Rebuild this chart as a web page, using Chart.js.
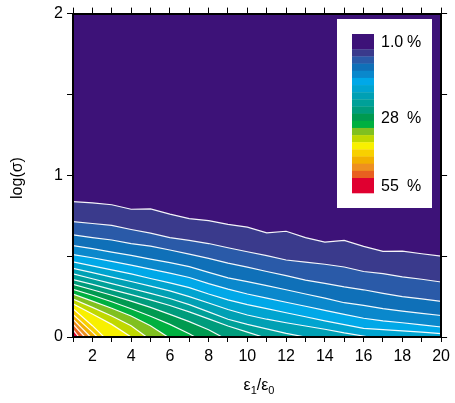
<!DOCTYPE html>
<html>
<head>
<meta charset="utf-8">
<script src="https://cdn.jsdelivr.net/npm/chart.js@4.4.1/dist/chart.umd.min.js"></script>
<style>
  html, body { margin: 0; padding: 0; background: #fff; }
</style>
</head>
<body>
<canvas id="contour" width="455" height="403"></canvas>
<script>
const xs = [1, 2, 3, 4, 5, 6, 7, 8, 9, 10, 11, 12, 13, 14, 15, 16, 17, 18, 19, 20];

// log(sigma) of each contour line, one array per level (1%, 4%, ... 55%)
const lv1 = [0.837, 0.830, 0.818, 0.790, 0.792, 0.760, 0.732, 0.720, 0.697, 0.679, 0.644, 0.654, 0.615, 0.587, 0.597, 0.560, 0.530, 0.531, 0.515, 0.500];
const lv2 = [0.714, 0.702, 0.690, 0.665, 0.642, 0.615, 0.597, 0.578, 0.552, 0.527, 0.503, 0.476, 0.463, 0.450, 0.433, 0.405, 0.392, 0.372, 0.357, 0.340];
const lv3 = [0.632, 0.615, 0.600, 0.578, 0.562, 0.538, 0.512, 0.486, 0.457, 0.432, 0.405, 0.380, 0.352, 0.332, 0.310, 0.292, 0.270, 0.250, 0.236, 0.220];
const lv4 = [0.565, 0.546, 0.525, 0.505, 0.482, 0.460, 0.435, 0.400, 0.366, 0.342, 0.318, 0.292, 0.266, 0.240, 0.212, 0.196, 0.176, 0.160, 0.146, 0.133];
const lv5 = [0.510, 0.490, 0.468, 0.445, 0.420, 0.395, 0.368, 0.330, 0.296, 0.266, 0.240, 0.215, 0.190, 0.165, 0.140, 0.116, 0.100, 0.088, 0.075, 0.062];
const lv6 = [0.465, 0.440, 0.415, 0.390, 0.362, 0.335, 0.305, 0.266, 0.230, 0.200, 0.175, 0.150, 0.125, 0.100, 0.076, 0.053, 0.045, 0.038, 0.030, 0.021];
const lv7 = [0.425, 0.398, 0.370, 0.343, 0.315, 0.285, 0.250, 0.210, 0.170, 0.136, 0.110, 0.088, 0.068, 0.048, 0.025];
const lv8 = [0.390, 0.360, 0.330, 0.300, 0.270, 0.238, 0.200, 0.155, 0.110, 0.078, 0.050, 0.022];
const lv9 = [0.355, 0.325, 0.293, 0.262, 0.230, 0.195, 0.155, 0.112, 0.068, 0.030];
const lv10 = [0.325, 0.292, 0.258, 0.222, 0.183, 0.140, 0.095, 0.045];
const lv11 = [0.295, 0.258, 0.218, 0.175, 0.128, 0.078, 0.020];
const lv12 = [0.265, 0.222, 0.178, 0.130, 0.070];
const lv13 = [0.235, 0.183, 0.130, 0.070];
const lv14 = [0.205, 0.142, 0.078];
const lv15 = [0.175, 0.070];
const lv16 = [0.140, 0.030];
const lv17 = [0.110];
const lv18 = [0.080];
const lv19 = [0.045];

// where the lower contours run into log(sigma) = 0 (null: reaches x = 20)
const bottomX = [null, null, null, null, null, null, 16.3, 13.0, 10.8, 8.7, 7.3, 5.9, 4.8, 4.0, 2.6, 2.25, 1.9, 1.6, 1.3];

// band colours, lowest (<1%) to highest (>55%)
const bandColors = ['#3d1278', '#3a3a8c', '#2a5aa8', '#0f70b8', '#0a88cc', '#00a8e8', '#00a4d0', '#00a0b4', '#00a098',
  '#009c7c', '#009a50', '#00b040', '#80c020', '#c0d800', '#f8f000', '#f8d000', '#f2b000', '#ee9020', '#e86020', '#e00030'];

const xTickLabels = [2, 4, 6, 8, 10, 12, 14, 16, 18, 20];
const yTickLabels = [0, 1, 2];
const legendLabels = [['1.0', 0], ['28', 10], ['55', 19]];

const FONT = "'Liberation Sans', Arial, Helvetica, sans-serif";

const levels = [lv1, lv2, lv3, lv4, lv5, lv6, lv7, lv8, lv9, lv10, lv11, lv12, lv13, lv14, lv15, lv16, lv17, lv18, lv19];

const datasets = levels.map((ys, i) => {
  const pts = ys.map((y, j) => ({ x: xs[j], y: y }));
  if (bottomX[i] !== null) pts.push({ x: bottomX[i], y: 0 });
  return {
    label: 'level ' + (i + 1),
    data: pts,
    fill: 'start',
    backgroundColor: bandColors[i + 1],
    borderColor: 'rgba(255,255,255,0.95)',
    borderWidth: 1.2,
    pointRadius: 0,
    tension: 0,
    order: 19 - i
  };
});

// purple background (<1%) behind all filled bands
const bgPlugin = {
  id: 'bg',
  beforeDatasetsDraw(chart) {
    const { ctx, chartArea: a } = chart;
    ctx.save();
    ctx.fillStyle = bandColors[0];
    ctx.fillRect(a.left, a.top, a.right - a.left, a.bottom - a.top);
    ctx.restore();
  }
};

// colour bar box + axis titles
const decoPlugin = {
  id: 'deco',
  afterDraw(chart) {
    const ctx = chart.ctx;
    ctx.save();
    // colour bar
    ctx.fillStyle = '#fff';
    ctx.fillRect(337, 19, 95, 189);
    const top = 34, first = 15.3, last = 15, bottom = 193;
    const step = (bottom - last - top - first) / 18;
    const bandY = [];
    let y = top;
    for (let k = 0; k < bandColors.length; k++) {
      const h = k === 0 ? first : (k === 19 ? last : step);
      ctx.fillStyle = bandColors[k];
      ctx.fillRect(352, y, 22, h + 0.3);
      bandY.push(y + h / 2);
      y += h;
    }
    ctx.fillStyle = '#000';
    ctx.font = '16px ' + FONT;
    ctx.textBaseline = 'middle';
    ctx.textAlign = 'left';
    legendLabels.forEach(([t, k]) => {
      ctx.fillText(t, 381, bandY[k] + 1);
      ctx.fillText('%', 407, bandY[k] + 1);
    });

    // y title
    ctx.save();
    ctx.translate(18, 178);
    ctx.rotate(-Math.PI / 2);
    ctx.textAlign = 'center';
    ctx.fillText('log(σ)', 0, 0);
    ctx.restore();

    // x title with subscripts
    const big = '16px ' + FONT, small = '11px ' + FONT;
    const parts = [['ε', big, 0], ['1', small, 4], ['/ε', big, 0], ['0', small, 4]];
    let w = 0;
    parts.forEach(p => { ctx.font = p[1]; w += ctx.measureText(p[0]).width; });
    let x = 259 - w / 2;
    ctx.textBaseline = 'alphabetic';
    parts.forEach(p => {
      ctx.font = p[1];
      ctx.fillText(p[0], x, 390 + p[2]);
      x += ctx.measureText(p[0]).width;
    });
    ctx.restore();
  }
};

const tickFont = { family: FONT, size: 16 };
const frame = { display: true, color: '#000', width: 2, z: 1 };

new Chart(document.getElementById('contour'), {
  type: 'line',
  data: { datasets },
  options: {
    responsive: false,
    animation: false,
    layout: { padding: 0 },
    plugins: { legend: { display: false }, tooltip: { enabled: false } },
    scales: {
      x: {
        type: 'linear', position: 'bottom', min: 1, max: 20,
        afterFit: s => { s.height = 66; },
        border: frame,
        grid: { drawOnChartArea: false, drawTicks: true, tickLength: 5, color: '#000', z: 1 },
        ticks: {
          stepSize: 1, autoSkip: false, maxRotation: 0, color: '#000', font: tickFont, padding: 5,
          callback: v => xTickLabels.includes(v) ? String(v) : ''
        }
      },
      x2: {
        type: 'linear', position: 'top', min: 1, max: 20,
        afterFit: s => { s.height = 12; },
        border: frame,
        grid: { drawOnChartArea: false, drawTicks: true, tickLength: 6, color: '#000', z: 1 },
        ticks: { stepSize: 1, autoSkip: false, display: false }
      },
      y: {
        type: 'linear', position: 'left', min: 0, max: 2,
        afterFit: s => { s.width = 73; },
        border: frame,
        grid: { drawOnChartArea: false, drawTicks: true, tickLength: 6, color: '#000', z: 1 },
        ticks: {
          stepSize: 0.5, autoSkip: false, color: '#000', font: tickFont, padding: 4,
          callback: v => yTickLabels.includes(v) ? String(v) : ''
        }
      },
      y2: {
        type: 'linear', position: 'right', min: 0, max: 2,
        afterFit: s => { s.width = 10; },
        border: frame,
        grid: { drawOnChartArea: false, drawTicks: true, tickLength: 6, color: '#000', z: 1 },
        ticks: { stepSize: 0.5, autoSkip: false, display: false }
      }
    }
  },
  plugins: [bgPlugin, decoPlugin]
});
</script>
</body>
</html>
